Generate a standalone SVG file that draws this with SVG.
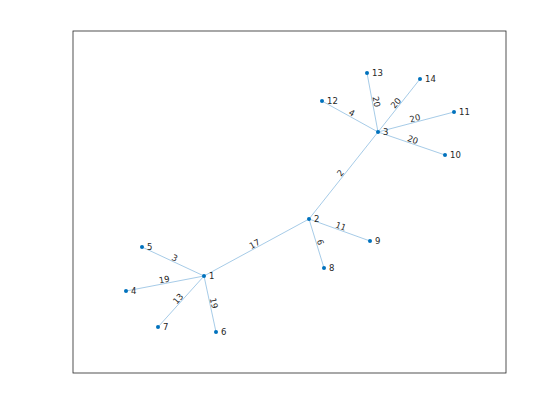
<svg xmlns="http://www.w3.org/2000/svg" width="560" height="420" viewBox="0 0 560 420">
<style>
.e{stroke:#80b4dc;stroke-width:0.7;fill:none}
.n{fill:#0072bd}
.t{font-family:"DejaVu Sans",sans-serif;font-size:8.5px;fill:#262626}
.el{font-family:"DejaVu Sans",sans-serif;font-size:8.5px;fill:#262626;text-anchor:middle}
</style>
<rect x="0" y="0" width="560" height="420" fill="#ffffff"/>
<rect x="73" y="31" width="433" height="342" fill="#ffffff" stroke="#262626" stroke-width="0.8"/>
<g id="edges">
<line class="e" x1="204" y1="276" x2="309" y2="219"/>
<line class="e" x1="309" y1="219" x2="378" y2="132"/>
<line class="e" x1="204" y1="276" x2="142" y2="247"/>
<line class="e" x1="204" y1="276" x2="126" y2="291"/>
<line class="e" x1="204" y1="276" x2="158" y2="327"/>
<line class="e" x1="204" y1="276" x2="216" y2="332"/>
<line class="e" x1="309" y1="219" x2="370" y2="241"/>
<line class="e" x1="309" y1="219" x2="324" y2="268"/>
<line class="e" x1="378" y1="132" x2="322" y2="101"/>
<line class="e" x1="378" y1="132" x2="367" y2="73"/>
<line class="e" x1="378" y1="132" x2="420" y2="79"/>
<line class="e" x1="378" y1="132" x2="454" y2="112"/>
<line class="e" x1="378" y1="132" x2="445" y2="155"/>
<text class="el" transform="translate(256.5,247.5) rotate(-28.5)" y="-1">17</text>
<text class="el" transform="translate(343.5,175.5) rotate(-51.6)" y="-1">2</text>
<text class="el" transform="translate(173,261.5) rotate(25)" y="-1">3</text>
<text class="el" transform="translate(165,283.5) rotate(-10.9)" y="-1">19</text>
<text class="el" transform="translate(181,301.5) rotate(-48)" y="-1">13</text>
<text class="el" transform="translate(210,304) rotate(78)" y="-1">19</text>
<text class="el" transform="translate(339.5,230) rotate(19.8)" y="-1">11</text>
<text class="el" transform="translate(316.5,243.5) rotate(73)" y="-1">6</text>
<text class="el" transform="translate(350,116.5) rotate(29)" y="-1">4</text>
<text class="el" transform="translate(372.5,102.5) rotate(79.4)" y="-1">20</text>
<text class="el" transform="translate(399,105.5) rotate(-51.6)" y="-1">20</text>
<text class="el" transform="translate(416,122) rotate(-14.7)" y="-1">20</text>
<text class="el" transform="translate(411.5,143.5) rotate(18.9)" y="-1">20</text>
</g>
<g id="node1"><circle class="n" cx="204" cy="276" r="2"/><text class="t" x="209" y="279">1</text></g>
<g id="node2"><circle class="n" cx="309" cy="219" r="2"/><text class="t" x="314" y="222">2</text></g>
<g id="node3"><circle class="n" cx="378" cy="132" r="2"/><text class="t" x="383" y="135">3</text></g>
<g id="node4"><circle class="n" cx="126" cy="291" r="2"/><text class="t" x="131" y="294">4</text></g>
<g id="node5"><circle class="n" cx="142" cy="247" r="2"/><text class="t" x="147" y="250">5</text></g>
<g id="node6"><circle class="n" cx="216" cy="332" r="2"/><text class="t" x="221" y="335">6</text></g>
<g id="node7"><circle class="n" cx="158" cy="327" r="2"/><text class="t" x="163" y="330">7</text></g>
<g id="node8"><circle class="n" cx="324" cy="268" r="2"/><text class="t" x="329" y="271">8</text></g>
<g id="node9"><circle class="n" cx="370" cy="241" r="2"/><text class="t" x="375" y="244">9</text></g>
<g id="node10"><circle class="n" cx="445" cy="155" r="2"/><text class="t" x="450" y="158">10</text></g>
<g id="node11"><circle class="n" cx="454" cy="112" r="2"/><text class="t" x="459" y="115">11</text></g>
<g id="node12"><circle class="n" cx="322" cy="101" r="2"/><text class="t" x="327" y="104">12</text></g>
<g id="node13"><circle class="n" cx="367" cy="73" r="2"/><text class="t" x="372" y="76">13</text></g>
<g id="node14"><circle class="n" cx="420" cy="79" r="2"/><text class="t" x="425" y="82">14</text></g>
</svg>
